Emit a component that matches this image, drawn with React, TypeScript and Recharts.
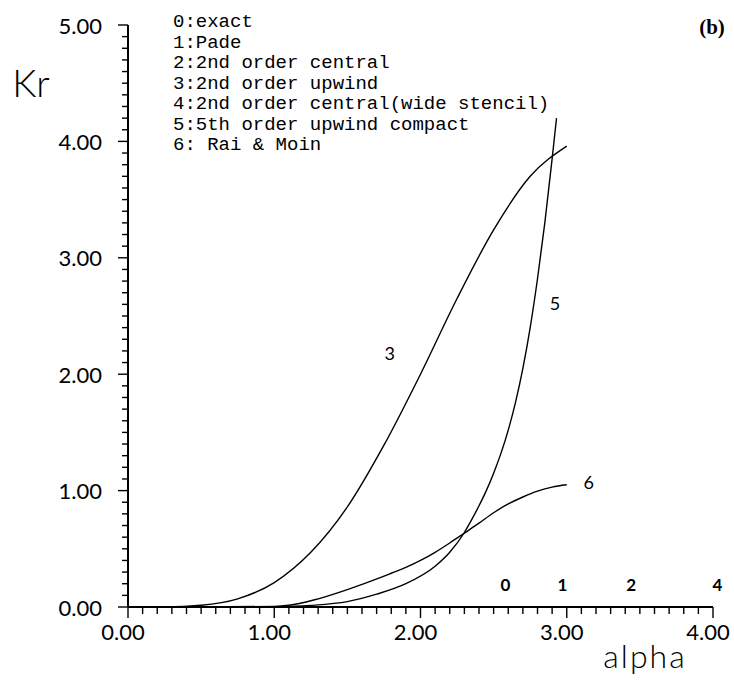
import React from "react";
import { LineChart, Line, XAxis, YAxis, Legend, ReferenceDot } from "recharts";

// legend entries, top to bottom
const seriesNames = [
  "0:exact",
  "1:Pade",
  "2:2nd order central",
  "3:2nd order upwind",
  "4:2nd order central(wide stencil)",
  "5:5th order upwind compact",
  "6: Rai & Moin",
];

// 3: 2nd order upwind
const alpha3 = [0, 0.25, 0.5, 0.75, 1.0, 1.25, 1.5, 1.75, 2.0, 2.25, 2.5, 2.75, 3.0];
const kr3 = [0, 0.001, 0.015, 0.07, 0.21, 0.47, 0.86, 1.39, 2.0, 2.65, 3.24, 3.7, 3.96];

// 5: 5th order upwind compact
const alpha5 = [0, 0.5, 1.0, 1.25, 1.5, 1.7, 1.9, 2.1, 2.2, 2.3, 2.35, 2.4, 2.45, 2.5, 2.55, 2.6, 2.65, 2.7, 2.75, 2.8, 2.85, 2.9, 2.93];
const kr5 = [0, 0, 0.003, 0.014, 0.046, 0.11, 0.2, 0.35, 0.47, 0.64, 0.75, 0.87, 1.0, 1.15, 1.32, 1.52, 1.76, 2.05, 2.4, 2.82, 3.3, 3.85, 4.2];

// 6: Rai & Moin
const alpha6 = [0, 0.5, 1.0, 1.1, 1.27, 1.5, 1.72, 1.8, 1.9, 2.0, 2.1, 2.2, 2.3, 2.4, 2.5, 2.6, 2.7, 2.8, 2.9, 3.0];
const kr6 = [0, 0, 0.005, 0.015, 0.06, 0.15, 0.25, 0.29, 0.34, 0.4, 0.47, 0.55, 0.635, 0.72, 0.81, 0.885, 0.945, 0.995, 1.03, 1.05];

// 0, 1, 2, 4 lie on the axis (Kr = 0)
const alpha0 = [0, 2.6];
const alpha1 = [0, 3.0];
const alpha2 = [0, 3.45];
const alpha4 = [0, 4.0];
const krZero = [0, 0];

// curve numbers written on the plot
const curveTags = ["3", "5", "6", "0", "1", "2", "4"];
const tagAlpha = [1.79, 2.92, 3.15, 2.58, 2.97, 3.44, 4.03];
const tagKr = [2.18, 2.61, 1.07, 0.19, 0.19, 0.19, 0.19];
const tagBold = [false, false, false, true, true, true, true];

const xMajor = [0, 1, 2, 3, 4];
const yMajor = [0, 1, 2, 3, 4, 5];

const FONT = "Lato, 'DejaVu Sans', sans-serif";
const MONO = "'Liberation Mono', 'DejaVu Sans Mono', monospace";

const toPoints = (a: number[], k: number[]) => a.map((v, i) => ({ a: v, k: k[i] }));

// minor ticks every 0.1
const xTicks = Array.from({ length: 41 }, (_, i) => i / 10);
const yTicks = Array.from({ length: 51 }, (_, i) => i / 10);
const isMajor = (v: number, majors: number[]) => majors.some((m) => Math.abs(m - v) < 1e-6);

function XTick(props: any) {
  const { x, y, payload } = props;
  const v = payload.value;
  const major = isMajor(v, xMajor);
  return (
    <g>
      <line x1={x} y1={y} x2={x} y2={y + (major ? 11 : 7)} stroke="#000" strokeWidth={1.4} />
      {major && (
        <text x={x - 5} y={y + 24} textAnchor="middle" dominantBaseline="central" fontSize={22} fontFamily={FONT} fill="#000">
          {v.toFixed(2)}
        </text>
      )}
    </g>
  );
}

function YTick(props: any) {
  const { x, y, payload } = props;
  const v = payload.value;
  const major = isMajor(v, yMajor);
  return (
    <g>
      <line x1={x - (major ? 10 : 6)} y1={y} x2={x} y2={y} stroke="#000" strokeWidth={1.4} />
      {major && (
        <text x={x - 26} y={y} textAnchor="end" dominantBaseline="central" fontSize={22} fontFamily={FONT} fill="#000">
          {v.toFixed(2)}
        </text>
      )}
    </g>
  );
}

function LegendBlock() {
  return (
    <div style={{ fontFamily: MONO, fontSize: 19, lineHeight: "20.5px", color: "#000", whiteSpace: "pre" }}>
      {seriesNames.map((n) => (
        <div key={n}>{n}</div>
      ))}
    </div>
  );
}

export default function App() {
  const lines = [
    { key: "0", data: toPoints(alpha0, krZero) },
    { key: "1", data: toPoints(alpha1, krZero) },
    { key: "2", data: toPoints(alpha2, krZero) },
    { key: "4", data: toPoints(alpha4, krZero) },
    { key: "3", data: toPoints(alpha3, kr3) },
    { key: "5", data: toPoints(alpha5, kr5) },
    { key: "6", data: toPoints(alpha6, kr6) },
  ];

  return (
    <div style={{ position: "absolute", left: 0, top: 0, width: 734, height: 681, background: "#fff", overflow: "hidden" }}>
      <LineChart width={734} height={681} margin={{ top: 25, right: 21, left: 68, bottom: 44 }}>
        <XAxis
          dataKey="a"
          type="number"
          domain={[0, 4]}
          ticks={xTicks}
          interval={0}
          tickSize={0}
          tickMargin={0}
          tickLine={false}
          tick={<XTick />}
          height={30}
          axisLine={{ stroke: "#000", strokeWidth: 2 }}
          allowDuplicatedCategory={false}
        />
        <YAxis
          type="number"
          domain={[0, 5]}
          ticks={yTicks}
          interval={0}
          tickSize={0}
          tickMargin={0}
          tickLine={false}
          tick={<YTick />}
          width={60}
          axisLine={{ stroke: "#000", strokeWidth: 2 }}
        />
        {lines.map((l) => (
          <Line
            key={l.key}
            data={l.data}
            dataKey="k"
            name={l.key}
            type="monotone"
            stroke="#000"
            strokeWidth={1.4}
            dot={false}
            activeDot={false}
            isAnimationActive={false}
          />
        ))}
        {curveTags.map((t, i) => (
          <ReferenceDot
            key={"tag" + t}
            x={tagAlpha[i]}
            y={tagKr[i]}
            r={0}
            ifOverflow="visible"
            shape={(p: any) => (
              <text
                x={p.cx}
                y={p.cy}
                textAnchor="middle"
                dominantBaseline="central"
                fontSize={tagBold[i] ? 17 : 18}
                fontWeight={tagBold[i] ? "bold" : "normal"}
                fontFamily={FONT}
                fill="#000"
              >
                {t}
              </text>
            )}
          />
        ))}
        <Legend
          layout="vertical"
          align="center"
          verticalAlign="middle"
          content={() => <LegendBlock />}
          wrapperStyle={{ left: 173, top: 12, width: "auto" }}
        />
      </LineChart>
      <div style={{ position: "absolute", left: 31, top: 82, transform: "translate(-50%, -50%)", fontFamily: FONT, fontSize: 38, fontWeight: 300, lineHeight: 1 }}>
        Kr
      </div>
      <div style={{ position: "absolute", left: 645, top: 656, transform: "translate(-50%, -50%)", fontFamily: FONT, fontSize: 32, fontWeight: 300, letterSpacing: 2, lineHeight: 1.2 }}>
        alpha
      </div>
      <div style={{ position: "absolute", left: 712, top: 27, transform: "translate(-50%, -50%)", fontFamily: "'Liberation Serif', serif", fontSize: 21, fontWeight: "bold", lineHeight: 1 }}>
        (b)
      </div>
    </div>
  );
}
